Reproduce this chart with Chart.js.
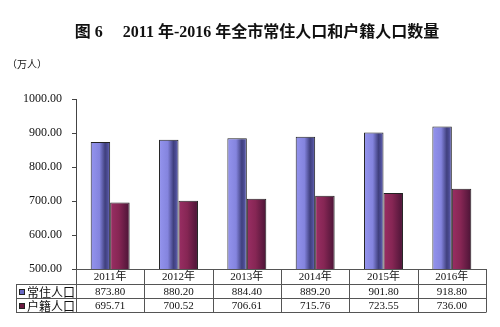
<!DOCTYPE html>
<html>
<head>
<meta charset="utf-8">
<script src="https://cdn.jsdelivr.net/npm/chart.js@4.4.1/dist/chart.umd.min.js"></script>
<style>
  html, body { margin: 0; padding: 0; background: #fff; }
  #wrap { width: 500px; height: 327px; }
</style>
</head>
<body>
<div id="wrap"><canvas id="chartPoblacion" width="500" height="327"></canvas></div>
<script>
// datos
const anios = ['2011年', '2012年', '2013年', '2014年', '2015年', '2016年'];
const serieNombres = ['常住人口', '户籍人口'];
const changzhu = [873.80, 880.20, 884.40, 889.20, 901.80, 918.80];
const huji = [695.71, 700.52, 706.61, 715.76, 723.55, 736.00];
const ticksY = [500, 600, 700, 800, 900, 1000];

const titulo = '图 6     2011 年-2016 年全市常住人口和户籍人口数量';
const unidad = '（万人）';

const CAT_PCT = 0.57;
const FONT_NUM = "'Liberation Serif', 'Noto Sans CJK SC', serif";

const stopsAzul = [[0, '#9494ee'], [0.45, '#8484de'], [0.74, '#40407e'], [0.86, '#4c4c94'], [1, '#7070c4']];
const stopsGranate = [[0, '#9a2e64'], [0.45, '#862654'], [1, '#4a1436']];

// degradado horizontal de cada barra (efecto cilindro), sobre la posicion que calcula Chart.js
const degradadoPlugin = {
    id: 'degradadoBarras',
    beforeDatasetsDraw(chart) {
        const ctx = chart.ctx;
        [stopsAzul, stopsGranate].forEach((stops, di) => {
            const meta = chart.getDatasetMeta(di);
            meta.data.forEach(el => {
                const izq = el.x - el.width / 2;
                const g = ctx.createLinearGradient(izq, 0, izq + el.width, 0);
                stops.forEach(s => g.addColorStop(s[0], s[1]));
                el.options = Object.assign({}, el.options, { backgroundColor: g });
            });
        });
    }
};

// titulo, unidad y tabla de datos
const tablaPlugin = {
    id: 'tablaDatos',
    afterDraw(chart) {
        const ctx = chart.ctx;
        const xs = chart.scales.x;
        const area = chart.chartArea;
        const n = anios.length;
        const cw = (xs.right - xs.left) / n;
        const x0 = xs.left;
        const x1 = xs.right;
        const xLeyenda = 16;
        const filas = [area.bottom, area.bottom + 15, area.bottom + 29, area.bottom + 43];

        ctx.save();
        // titulo
        ctx.fillStyle = '#111';
        ctx.textAlign = 'center';
        ctx.textBaseline = 'middle';
        ctx.font = "600 16px 'Liberation Serif', 'Noto Sans CJK SC', serif";
        ctx.fillText(titulo, 257, 33);

        ctx.font = "10px 'Noto Sans CJK SC', sans-serif";
        ctx.textAlign = 'left';
        ctx.fillText(unidad, 7, 64);

        // lineas de la tabla
        ctx.strokeStyle = '#555';
        ctx.lineWidth = 1;
        ctx.beginPath();
        ctx.moveTo(x0, filas[0] + 0.5); ctx.lineTo(x1, filas[0] + 0.5);
        for (let r = 1; r < filas.length; r++) {
            ctx.moveTo(xLeyenda, Math.round(filas[r]) + 0.5);
            ctx.lineTo(x1, Math.round(filas[r]) + 0.5);
        }
        for (let i = 0; i <= n; i++) {
            const x = Math.round(x0 + i * cw) + 0.5;
            ctx.moveTo(x, filas[0]); ctx.lineTo(x, filas[3] + 0.5);
        }
        ctx.moveTo(xLeyenda + 0.5, filas[1]); ctx.lineTo(xLeyenda + 0.5, filas[3] + 0.5);
        ctx.stroke();

        // fila de anios
        ctx.fillStyle = '#111';
        ctx.textAlign = 'center';
        ctx.font = "11px " + FONT_NUM;
        anios.forEach((a, i) => {
            ctx.fillText(a, x0 + (i + 0.5) * cw, (filas[0] + filas[1]) / 2 + 1);
        });

        // filas de valores
        const series = [changzhu, huji];
        const coloresLeyenda = ['#6868c4', '#6a1a40'];
        series.forEach((vals, r) => {
            const yc = (filas[r + 1] + filas[r + 2]) / 2 + 1;
            ctx.fillStyle = coloresLeyenda[r];
            ctx.fillRect(xLeyenda + 3, yc - 3, 6, 6);
            ctx.strokeStyle = '#222';
            ctx.strokeRect(xLeyenda + 3.5, yc - 2.5, 5, 5);
            ctx.fillStyle = '#111';
            ctx.textAlign = 'left';
            ctx.font = "12px 'Noto Sans CJK SC', sans-serif";
            ctx.fillText(serieNombres[r], xLeyenda + 11, yc);
            ctx.textAlign = 'center';
            ctx.font = "11px " + FONT_NUM;
            vals.forEach((v, i) => {
                ctx.fillText(v.toFixed(2), x0 + (i + 0.5) * cw, yc);
            });
        });
        ctx.restore();
    }
};

function crearGrafica() {
    const ctx = document.getElementById('chartPoblacion').getContext('2d');

    new Chart(ctx, {
        type: 'bar',
        data: {
            labels: anios,
            datasets: [{
                label: serieNombres[0],
                data: changzhu,
                backgroundColor: '#7070cc',
                borderColor: '#222',
                borderWidth: 1,
                borderSkipped: 'bottom'
            }, {
                label: serieNombres[1],
                data: huji,
                backgroundColor: '#6a1a40',
                borderColor: '#222',
                borderWidth: 1,
                borderSkipped: 'bottom'
            }]
        },
        options: {
            responsive: false,
            animation: false,
            layout: {
                padding: { top: 99, right: 14, bottom: 58, left: 0 }
            },
            plugins: {
                legend: { display: false },
                tooltip: { enabled: false }
            },
            datasets: {
                bar: {
                    categoryPercentage: CAT_PCT,
                    barPercentage: 1
                }
            },
            scales: {
                x: {
                    display: false
                },
                y: {
                    min: 500,
                    max: 1000,
                    afterFit: (scale) => { scale.width = 76; },
                    afterBuildTicks: (scale) => {
                        scale.ticks = ticksY.map(v => ({ value: v }));
                    },
                    border: { display: true, color: '#444', width: 1 },
                    grid: {
                        drawOnChartArea: false,
                        drawTicks: true,
                        tickLength: 4,
                        color: '#444'
                    },
                    ticks: {
                        padding: 10,
                        color: '#111',
                        font: { family: FONT_NUM, size: 12 },
                        callback: (v) => Number(v).toFixed(2)
                    }
                }
            }
        },
        plugins: [degradadoPlugin, tablaPlugin]
    });
}

document.addEventListener('DOMContentLoaded', crearGrafica);
</script>
</body>
</html>
